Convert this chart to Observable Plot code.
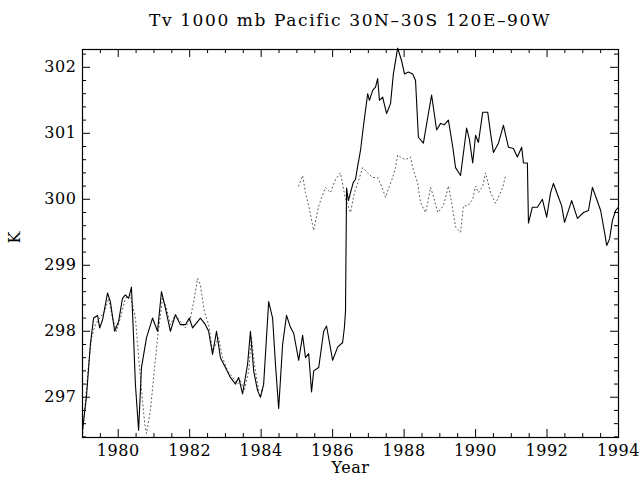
<!DOCTYPE html>
<html>
<head>
<meta charset="utf-8">
<script src="https://cdn.jsdelivr.net/npm/d3@7"></script>
<script src="https://cdn.jsdelivr.net/npm/@observablehq/plot@0.6"></script>
<style>
  body { margin: 0; background: #fff; }
  #title { width: 536px; margin-left: 82px; height: 40px; line-height: 40px; text-align: center;
           font-family: "DejaVu Serif", serif; font-size: 17px; letter-spacing: 1.6px; color: #000; white-space: nowrap; }
</style>
</head>
<body>
<div id="title"></div>
<div id="chart"></div>
<script>
const titleText = "Tv 1000 mb Pacific 30N–30S 120E–90W";
const xLabel = "Year";
const yLabel = "K";

const solidYear = [1979.00,1979.11,1979.22,1979.31,1979.42,1979.48,1979.56,1979.70,1979.78,1979.90,
  1980.01,1980.12,1980.20,1980.29,1980.37,1980.43,1980.48,1980.57,1980.65,1980.79,1980.96,
  1981.10,1981.21,1981.32,1981.46,1981.60,1981.74,1981.88,1981.99,1982.08,1982.30,1982.44,1982.53,
  1982.64,1982.75,1982.86,1983.00,1983.14,1983.28,1983.37,1983.48,1983.62,1983.70,1983.79,1983.90,
  1983.98,1984.07,1984.21,1984.32,1984.40,1984.49,1984.60,1984.71,1984.82,1984.91,1985.05,1985.16,
  1985.24,1985.33,1985.41,1985.47,1985.61,1985.75,1985.83,1986.00,1986.14,1986.28,1986.33,1986.36,
  1986.39,1986.44,1986.50,1986.58,1986.64,1986.70,1986.78,1986.86,1986.98,1987.03,1987.12,1987.20,
  1987.26,1987.31,1987.40,1987.51,1987.62,1987.70,1987.82,1987.93,1988.01,1988.12,1988.24,1988.32,
  1988.40,1988.54,1988.68,1988.77,1988.91,1989.02,1989.13,1989.24,1989.36,1989.44,1989.58,1989.75,
  1989.83,1989.92,1990.00,1990.08,1990.20,1990.34,1990.42,1990.50,1990.64,1990.78,1990.92,1991.06,
  1991.17,1991.29,1991.34,1991.45,1991.48,1991.59,1991.73,1991.87,1991.99,1992.10,1992.18,1992.32,
  1992.41,1992.49,1992.69,1992.85,1993.02,1993.16,1993.27,1993.39,1993.50,1993.61,1993.67,1993.75,
  1993.83,1993.92,1994.00];
const solidK = [296.5,297.0,297.8,298.2,298.24,298.05,298.17,298.58,298.45,298.0,
  298.15,298.5,298.55,298.5,298.67,297.9,297.2,296.5,297.45,297.9,298.2,
  298.0,298.6,298.35,298.0,298.25,298.1,298.1,298.2,298.05,298.2,298.1,298.0,
  297.65,298.0,297.6,297.45,297.3,297.2,297.3,297.05,297.5,298.0,297.4,297.1,
  297.0,297.2,298.45,298.2,297.5,296.83,297.8,298.24,298.06,297.97,297.56,297.94,
  297.6,297.66,297.08,297.4,297.45,298.0,298.08,297.56,297.76,297.83,298.06,298.3,
  300.17,299.98,300.1,300.26,300.3,300.5,300.74,301.1,301.6,301.5,301.65,301.7,
  301.83,301.5,301.55,301.3,301.45,301.9,302.29,302.1,301.9,301.93,301.9,301.8,
  300.94,300.85,301.3,301.58,301.05,301.15,301.13,301.2,300.8,300.48,300.36,301.08,
  300.9,300.55,300.97,300.86,301.32,301.32,301.0,300.71,300.85,301.12,300.79,300.77,
  300.64,300.79,300.55,300.55,299.64,299.88,299.88,300.0,299.73,300.1,300.24,300.03,
  299.9,299.65,299.98,299.71,299.8,299.83,300.18,300.0,299.83,299.5,299.3,299.4,
  299.68,299.83,299.88];

const dottedYear = [1979.00,1979.06,1979.17,1979.25,1979.36,1979.48,1979.62,1979.73,1979.84,1979.95,
  1980.06,1980.20,1980.34,1980.48,1980.62,1980.74,1980.79,1980.90,1980.99,1981.10,1981.24,1981.35,
  1981.46,1981.60,1981.74,1981.88,1982.02,1982.13,1982.22,1982.30,1982.41,1982.53,1982.64,1982.81,
  1982.92,1983.06,1983.20,1983.34,1983.42,1983.53,1983.65,1983.73,1983.81,1983.93,1984.04,1984.50,
  1985.05,1985.16,1985.24,1985.33,1985.47,1985.61,1985.80,1985.94,1986.08,1986.22,1986.36,1986.50,
  1986.61,1986.70,1986.84,1986.98,1987.12,1987.26,1987.37,1987.48,1987.59,1987.68,1987.76,1987.82,
  1987.90,1988.04,1988.18,1988.24,1988.29,1988.38,1988.46,1988.60,1988.66,1988.74,1988.82,1988.94,
  1989.10,1989.24,1989.33,1989.44,1989.58,1989.66,1989.78,1989.92,1990.00,1990.08,1990.20,1990.28,
  1990.42,1990.56,1990.64,1990.76,1990.84];
const dottedK = [296.4,296.8,297.5,297.9,298.1,298.2,298.3,298.5,298.2,298.0,
  298.2,298.5,298.55,298.2,297.3,296.6,296.45,296.8,297.3,297.9,298.5,298.35,
  298.1,298.25,298.15,298.05,298.2,298.5,298.8,298.7,298.3,298.1,297.7,297.9,
  297.6,297.4,297.3,297.2,297.25,297.1,297.4,297.9,297.5,297.1,297.1,null,
  300.2,300.36,300.1,299.9,299.53,299.9,300.18,300.1,300.3,300.4,300.0,299.8,
  300.1,300.24,300.48,300.4,300.33,300.33,300.2,300.03,300.2,300.33,300.48,300.67,
  300.64,300.6,300.64,300.48,300.4,300.24,299.95,299.8,299.94,300.18,300.05,299.8,
  299.9,300.2,299.95,299.58,299.5,299.9,299.9,300.0,300.2,300.1,300.2,300.4,
  300.1,299.94,300.03,300.18,300.36];

const xMajor = [1980, 1982, 1984, 1986, 1988, 1990, 1992, 1994];
const yMajor = [297, 298, 299, 300, 301, 302];
const xMinor = d3.range(1979, 1994.01, 0.5).filter(v => v % 2 !== 0);
const yMinor = d3.range(296.4, 302.3, 0.2).map(v => +v.toFixed(1)).filter(v => Math.abs(v - Math.round(v)) > 1e-6);

const solid = solidYear.map((x, i) => ({x, y: solidK[i]}));
const dotted = dottedYear.map((x, i) => ({x, y: dottedK[i]}));

document.getElementById("title").textContent = titleText;

const W = 642, H = 442, mL = 82, mR = 24, mT = 9, mB = 45;
const innerW = W - mL - mR, innerH = H - mT - mB;
const font = "DejaVu Serif, serif";

const chart = Plot.plot({
  width: W, height: H,
  marginLeft: mL, marginRight: mR, marginTop: mT, marginBottom: mB,
  style: {fontFamily: font, fontSize: "16px", color: "#000", background: "#fff", letterSpacing: "0.6px"},
  x: {domain: [1979, 1994], axis: null},
  y: {domain: [296.39, 302.27], axis: null},
  marks: [
    Plot.line(dotted, {x: "x", y: "y", stroke: "#555", strokeWidth: 1, strokeDasharray: "1,3"}),
    Plot.line(solid, {x: "x", y: "y", stroke: "#000", strokeWidth: 1.1}),
    Plot.frame({stroke: "#000", strokeWidth: 1.2}),
    Plot.tickX(xMajor, {x: d => d, insetTop: innerH - 8, stroke: "#000"}),
    Plot.tickX(xMajor, {x: d => d, insetBottom: innerH - 8, stroke: "#000"}),
    Plot.tickX(xMinor, {x: d => d, insetTop: innerH - 4, stroke: "#000"}),
    Plot.tickX(xMinor, {x: d => d, insetBottom: innerH - 4, stroke: "#000"}),
    Plot.tickY(yMajor, {y: d => d, insetRight: innerW - 8, stroke: "#000"}),
    Plot.tickY(yMajor, {y: d => d, insetLeft: innerW - 8, stroke: "#000"}),
    Plot.tickY(yMinor, {y: d => d, insetRight: innerW - 4, stroke: "#000"}),
    Plot.tickY(yMinor, {y: d => d, insetLeft: innerW - 4, stroke: "#000"}),
    Plot.axisX(xMajor, {tickSize: 0, tickPadding: 7, tickFormat: d => String(d), fontSize: 16, label: null}),
    Plot.axisY(yMajor, {tickSize: 0, tickPadding: 6, tickFormat: d => String(d), fontSize: 16, label: null}),
    Plot.text([yLabel], {text: d => d, frameAnchor: "left", dx: -68, rotate: -90, fontSize: 16}),
    Plot.text([xLabel], {text: d => d, frameAnchor: "bottom", dy: 35, fontSize: 16})
  ]
});
document.getElementById("chart").appendChild(chart);
</script>
</body>
</html>
